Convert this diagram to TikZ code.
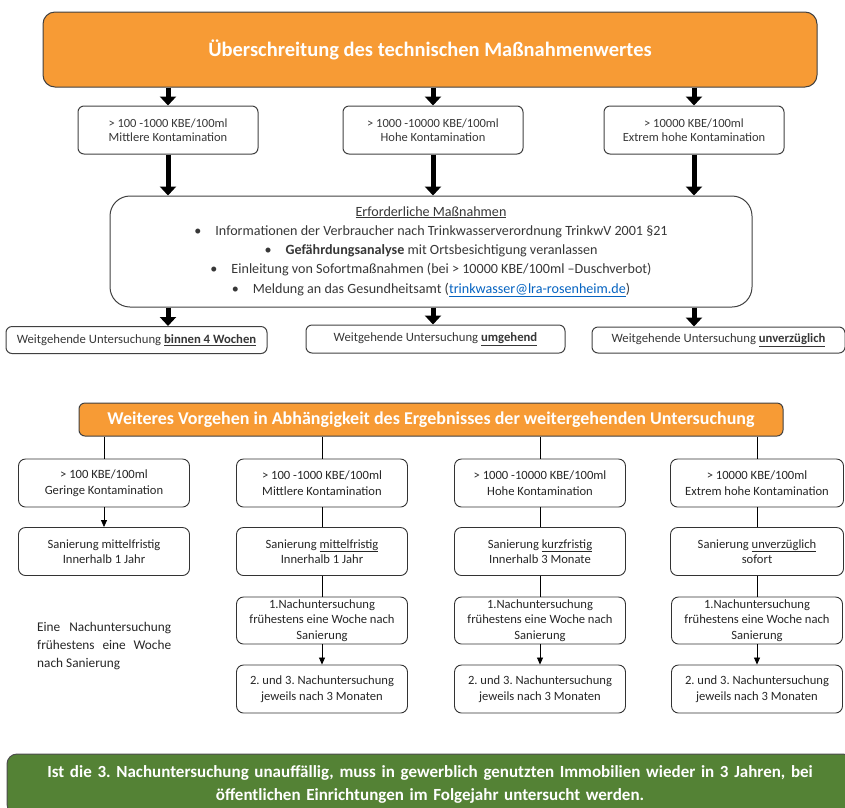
\documentclass[tikz,border=0pt]{standalone}
\usepackage{fontspec}
\setmainfont{Carlito}
\usetikzlibrary{arrows.meta}
\definecolor{boxorange}{RGB}{247,155,53}
\definecolor{boxgreen}{RGB}{84,130,53}
\definecolor{framegrey}{RGB}{64,64,64}
\definecolor{textgrey}{RGB}{55,55,55}
\definecolor{linkblue}{RGB}{5,99,193}
\frenchspacing

\begin{document}
\begin{tikzpicture}[x=1pt,y=-1pt,
    headbox/.style={draw=framegrey, line width=1pt, fill=boxorange, rounded corners=12pt, text=white, inner sep=0pt},
    levelbox/.style={draw=framegrey, line width=1pt, rounded corners=6pt, align=center, inner sep=0pt, text=textgrey, font=\fontsize{12.5}{14.5}\selectfont},
    stepbox/.style={draw=black!80, line width=0.9pt, rounded corners=7pt, align=center, inner sep=0pt, text=black!85, font=\fontsize{12.6}{15.5}\selectfont, minimum width=171, minimum height=48},
    bigarrow/.style={line width=5pt, -{Triangle[length=9pt 0 0,width=16pt 0 0]}},
    thinarrow/.style={line width=0.8pt, -{Triangle[length=7pt 0 0,width=6pt 0 0]}},
    thinline/.style={line width=0.8pt}]
  \useasboundingbox (0,0) rectangle (845,807);

  % obere Stufe
  \node[headbox, minimum width=774, minimum height=75, font=\bfseries\fontsize{20.5}{24}\selectfont] (head) at (430,49.5) {Überschreitung des technischen Maßnahmenwertes};
  \node[levelbox, minimum width=180, minimum height=48] (m1) at (168,130) {> 100 -1000 KBE/100ml\\Mittlere Kontamination};
  \node[levelbox, minimum width=180, minimum height=48] (m2) at (433,130) {> 1000 -10000 KBE/100ml\\Hohe Kontamination};
  \node[levelbox, minimum width=180, minimum height=48] (m3) at (694,130) {> 10000 KBE/100ml\\Extrem hohe Kontamination};
  \node[levelbox, minimum width=642, minimum height=111, rounded corners=20pt, font=\fontsize{14.1}{19.3}\selectfont] (act) at (431,251.5)
    {\underline{Erforderliche Maßnahmen}\\
     \textbullet\hspace{14pt}Informationen der Verbraucher nach Trinkwasserverordnung TrinkwV 2001 §21\\
     \textbullet\hspace{14pt}\textbf{Gefährdungsanalyse} mit Ortsbesichtigung veranlassen\\
     \textbullet\hspace{14pt}Einleitung von Sofortmaßnahmen (bei > 10000 KBE/100ml –Duschverbot)\\
     \textbullet\hspace{14pt}Meldung an das Gesundheitsamt (\textcolor{linkblue}{\underline{trinkwasser@lra-rosenheim.de}})};
  \node[levelbox, minimum width=261, minimum height=27, font=\fontsize{12.7}{14}\selectfont] (u1) at (136.5,340) {Weitgehende Untersuchung \underline{\textbf{binnen 4 Wochen}}};
  \node[levelbox, minimum width=259, minimum height=28, font=\fontsize{12.7}{14}\selectfont] (u2) at (435.5,339) {Weitgehende Untersuchung \underline{\textbf{umgehend}}};
  \node[levelbox, minimum width=253, minimum height=26, font=\fontsize{12.7}{14}\selectfont] (u3) at (718.5,340) {Weitgehende Untersuchung \underline{\textbf{unverzüglich}}};

  \foreach \n in {1,2,3} {
    \draw[bigarrow] (head.south -| m\n.north) -- (m\n.north);
    \draw[bigarrow] (m\n.south) -- (m\n.south |- act.north);
    \draw[bigarrow] (act.south -| m\n.south) -- (m\n.south |- u\n.north);
  }

  % untere Stufe
  \node[headbox, minimum width=704, minimum height=33, rounded corners=6pt, font=\bfseries\fontsize{18}{20}\selectfont] (next) at (431,419.5) {Weiteres Vorgehen in Abhängigkeit des Ergebnisses der weitergehenden Untersuchung};

  \node[stepbox] (a1) at (104,483) {> 100 KBE/100ml\\Geringe Kontamination};
  \node[stepbox] (b1) at (322,483) {> 100 -1000 KBE/100ml\\Mittlere Kontamination};
  \node[stepbox] (c1) at (540,483) {> 1000 -10000 KBE/100ml\\Hohe Kontamination};
  \node[stepbox, minimum width=173] (d1) at (757,483) {> 10000 KBE/100ml\\Extrem hohe Kontamination};

  \node[stepbox] (a2) at (104,551.5) {Sanierung mittelfristig\\Innerhalb 1 Jahr};
  \node[stepbox] (b2) at (322,551.5) {Sanierung \underline{mittelfristig}\\Innerhalb 1 Jahr};
  \node[stepbox] (c2) at (540,551.5) {Sanierung \underline{kurzfristig}\\Innerhalb 3 Monate};
  \node[stepbox, minimum width=173] (d2) at (757,551.5) {Sanierung \underline{unverzüglich}\\sofort};

  \node[text width=134pt, align=justify, anchor=north west, inner sep=0pt, text=black!85, font=\fontsize{13.3}{18}\selectfont] (note) at (37,622)
    {Eine Nachuntersuchung\linebreak frühestens eine Woche\linebreak nach Sanierung};

  \foreach \c/\x in {b/322,c/540,d/757} {
    \node[stepbox, minimum height=47] (\c3) at (\x,620.5) {1.Nachuntersuchung\\frühestens eine Woche nach\\Sanierung};
    \node[stepbox] (\c4) at (\x,689) {2. und 3. Nachuntersuchung\\jeweils nach 3 Monaten};
    \draw[thinline] (\c2) -- (\c3);
    \draw[thinarrow] (\c3) -- (\c4);
  }
  \foreach \c in {a,b,c,d} {
    \draw[thinline] (next.south -| \c1.north) -- (\c1.north);
  }
  \draw[thinarrow] (a1) -- (a2);
  \foreach \c in {b,c,d} {
    \draw[thinline] (\c1) -- (\c2);
  }

  % Abschluss
  \node[fill=boxgreen, draw=black!70, line width=1pt, rounded corners=10pt, minimum width=846, minimum height=60, inner sep=0pt, text width=820pt, align=center, text=white, font=\bfseries\fontsize{17}{23}\selectfont] (final) at (430,784)
    {Ist die 3. Nachuntersuchung unauffällig, muss in gewerblich genutzten Immobilien wieder in 3 Jahren, bei\\öffentlichen Einrichtungen im Folgejahr untersucht werden.};
\end{tikzpicture}
\end{document}
